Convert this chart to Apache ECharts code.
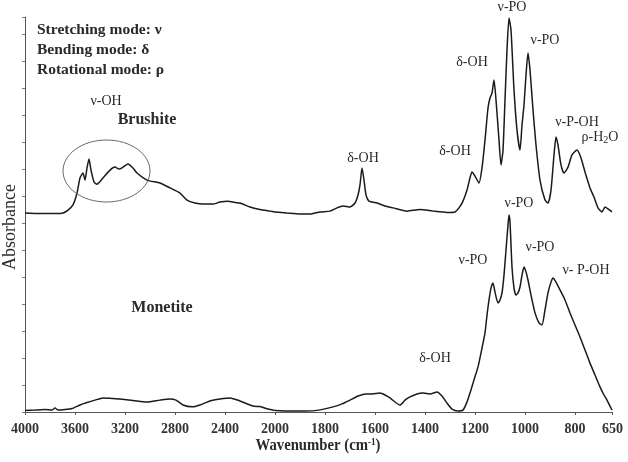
<!DOCTYPE html>
<html>
<head>
<meta charset="utf-8">
<script src="https://cdn.jsdelivr.net/npm/echarts@6/dist/echarts.min.js"></script>
<style>
  html, body { margin: 0; padding: 0; background: #fff; }
  #chart { width: 628px; height: 462px; }
</style>
</head>
<body>
<div id="chart"></div>
<script>
// wavenumber (cm-1) of each sample point
var brushiteWn = [4000, 3880, 3760, 3696, 3656, 3616, 3584, 3560, 3536, 3520, 3504, 3488, 3472, 3448, 3424, 3376, 3320, 3280, 3248, 3224, 3176, 3136, 3104, 3024, 2920, 2840, 2760, 2704, 2640, 2576, 2496, 2440, 2376, 2320, 2280, 2200, 2120, 2040, 2000,
  1952, 1900, 1860, 1820, 1780, 1752, 1728, 1700, 1680, 1668, 1660, 1652, 1644, 1636, 1624, 1592, 1560, 1528, 1472, 1420, 1368, 1312, 1280, 1264, 1248, 1232, 1220, 1212, 1200, 1184, 1172, 1160, 1148, 1140, 1132, 1124, 1116, 1104, 1096, 1088, 1080, 1072, 1064, 1056, 1044, 1032, 1020, 1012, 1004, 996, 988, 980, 968, 956, 940, 920, 908, 896, 884, 876, 868, 856, 844, 828, 812, 792, 776, 760, 740, 724, 708, 692, 680, 668, 652];
var brushiteAbs = [7.37, 7.35, 7.35, 7.37, 7.48, 7.67, 8.11, 8.67, 8.85, 8.59, 9.04, 9.37, 8.96, 8.52, 8.44, 8.67, 8.96, 9.07, 9.0, 9.04, 9.19, 9.04, 8.85, 8.59, 8.48, 8.30, 8.11, 7.85, 7.74, 7.70, 7.70, 7.78, 7.81, 7.76, 7.74, 7.59, 7.50, 7.44, 7.41,
  7.37, 7.33, 7.33, 7.41, 7.44, 7.56, 7.63, 7.59, 7.74, 8.04, 8.41, 9.04, 8.59, 8.04, 7.81, 7.74, 7.63, 7.56, 7.44, 7.50, 7.44, 7.39, 7.41, 7.56, 7.81, 8.22, 8.67, 8.89, 8.74, 8.48, 9.04, 10.07, 11.26, 11.63, 11.81, 12.30, 11.56, 10.07, 9.15, 9.70, 11.56, 13.41, 14.59, 14.15, 11.93, 10.44, 9.70, 10.63, 11.37, 12.48, 13.30, 12.67, 11.19, 9.89, 8.59, 7.85, 7.74, 8.22, 9.52, 10.19, 9.89, 9.15, 8.85, 9.07, 9.52, 9.70, 9.41, 8.89, 8.30, 7.96, 7.56, 7.41, 7.59, 7.52, 7.41];

var monetiteWn = [4000, 3920, 3840, 3784, 3760, 3736, 3680, 3624, 3560, 3504, 3440, 3376, 3304, 3240, 3136, 3024, 2920, 2840, 2792, 2736, 2664, 2600, 2520, 2440, 2360, 2280, 2176, 2120, 2056, 2000,
  1940, 1880, 1832, 1768, 1732, 1700, 1668, 1636, 1612, 1580, 1560, 1540, 1520, 1500, 1480, 1460, 1432, 1408, 1380, 1352, 1332, 1312, 1292, 1268, 1248, 1232, 1220, 1204, 1188, 1172, 1160, 1152, 1144, 1136, 1128, 1120, 1108, 1100, 1092, 1084, 1076, 1068, 1064, 1060, 1052, 1044, 1036, 1028, 1020, 1012, 1004, 996, 988, 976, 960, 944, 932, 920, 908, 896, 888, 876, 860, 840, 820, 800, 780, 760, 740, 720, 700, 684, 672, 660, 652];
var monetiteAbs = [0.06, 0.07, 0.09, 0.07, 0.15, 0.07, 0.09, 0.13, 0.26, 0.35, 0.44, 0.52, 0.50, 0.48, 0.43, 0.37, 0.44, 0.48, 0.44, 0.26, 0.19, 0.26, 0.41, 0.48, 0.52, 0.41, 0.22, 0.20, 0.11, 0.06,
  0.04, 0.04, 0.06, 0.19, 0.30, 0.44, 0.59, 0.67, 0.67, 0.70, 0.63, 0.52, 0.37, 0.26, 0.44, 0.56, 0.67, 0.70, 0.67, 0.74, 0.59, 0.33, 0.11, 0.04, 0.07, 0.37, 0.70, 1.19, 1.67, 2.37, 2.93, 3.59, 4.15, 4.59, 4.78, 4.44, 4.04, 4.15, 4.41, 5.07, 6.00, 6.93, 7.30, 7.04, 5.37, 4.59, 4.33, 4.41, 4.63, 5.07, 5.37, 5.19, 4.89, 4.33, 3.67, 3.30, 3.22, 3.78, 4.41, 4.81, 4.96, 4.81, 4.52, 4.15, 3.67, 3.22, 2.78, 2.30, 1.81, 1.37, 0.93, 0.63, 0.44, 0.22, 0.07];

// tick labels: axis scale changes at 2000 cm-1
var ticksHigh = [4000, 3600, 3200, 2800, 2400, 2000];
var ticksLow = [2000, 1800, 1600, 1400, 1200, 1000, 800, 650];

var serif = '"Liberation Serif", "DejaVu Serif", serif';
var ink = '#2a2a2a';

function pairs(wn, abs, test) {
  var out = [];
  for (var i = 0; i < wn.length; i++) {
    if (test(wn[i])) out.push([wn[i], abs[i]]);
  }
  return out;
}
var hi = function (w) { return w >= 2000; };
var lo = function (w) { return w <= 2000; };

function lineSeries(xi, data) {
  return {
    type: 'line', xAxisIndex: xi, yAxisIndex: xi, data: data,
    showSymbol: false, smooth: 0.2, silent: true,
    lineStyle: { color: '#1a1a1a', width: 1.5 }
  };
}

function label(x, y, text, extra) {
  var st = { text: text, x: x, y: y, fill: ink, font: '14px ' + serif, textAlign: 'center', textVerticalAlign: 'middle' };
  for (var k in extra) st[k] = extra[k];
  return { type: 'text', style: st, z: 10 };
}

var myChart = echarts.init(document.getElementById('chart'));
var yMax = 14.63;
var axisCol = '#555';
var plain = function (v) { return String(v); };
var tickFont = { fontFamily: serif, fontWeight: 'bold', fontSize: 14, color: '#333', margin: 10, formatter: plain };

var option = {
  animation: false,
  grid: [
    { left: 25, top: 17, width: 250, bottom: 50 },
    { left: 275, top: 17, width: 337.5, bottom: 50 }
  ],
  xAxis: [
    {
      gridIndex: 0, type: 'value', min: 2000, max: 4000, inverse: true, interval: 400,
      axisLine: { lineStyle: { color: axisCol } },
      axisTick: { length: 3, lineStyle: { color: axisCol }, customValues: ticksHigh },
      axisLabel: Object.assign({ customValues: ticksHigh }, tickFont),
      splitLine: { show: false }
    },
    {
      gridIndex: 1, type: 'value', min: 650, max: 2000, inverse: true,
      axisLine: { lineStyle: { color: axisCol } },
      axisTick: { length: 3, lineStyle: { color: axisCol }, customValues: ticksLow },
      axisLabel: Object.assign({ customValues: ticksLow.slice(1) }, tickFont),
      splitLine: { show: false }
    }
  ],
  yAxis: [
    {
      gridIndex: 0, type: 'value', min: 0, max: yMax, interval: 1,
      axisLine: { show: true, lineStyle: { color: axisCol } },
      axisTick: { show: true, length: 3, lineStyle: { color: '#777' } },
      axisLabel: { show: false },
      splitLine: { show: false }
    },
    { gridIndex: 1, type: 'value', min: 0, max: yMax, show: false, splitLine: { show: false } }
  ],
  series: [
    lineSeries(0, pairs(brushiteWn, brushiteAbs, hi)),
    lineSeries(1, pairs(brushiteWn, brushiteAbs, lo)),
    lineSeries(0, pairs(monetiteWn, monetiteAbs, hi)),
    lineSeries(1, pairs(monetiteWn, monetiteAbs, lo))
  ],
  graphic: [
    { type: 'text', style: { text: 'Stretching mode: ν', x: 37, y: 30, fill: ink, font: 'bold 15.5px ' + serif, textVerticalAlign: 'middle' } },
    { type: 'text', style: { text: 'Bending mode: δ', x: 37, y: 50, fill: ink, font: 'bold 15.5px ' + serif, textVerticalAlign: 'middle' } },
    { type: 'text', style: { text: 'Rotational mode: ρ', x: 37, y: 70, fill: ink, font: 'bold 15.5px ' + serif, textVerticalAlign: 'middle' } },
    label(147, 120, 'Brushite', { font: 'bold 16px ' + serif }),
    label(162, 308, 'Monetite', { font: 'bold 16px ' + serif }),
    label(106, 101, 'ν-OH'),
    label(363, 158, 'δ-OH'),
    label(455, 151, 'δ-OH'),
    label(472, 62, 'δ-OH'),
    label(512, 7, 'ν-PO'),
    label(545, 40, 'ν-PO'),
    label(577, 122, 'ν-P-OH'),
    label(600, 137, 'ρ-H{sub|2}O', { rich: { sub: { fontSize: 10, fontFamily: serif, fill: ink, padding: [6, 0, 0, 0] } } }),
    label(519, 203, 'ν-PO'),
    label(473, 260, 'ν-PO'),
    label(540, 247, 'ν-PO'),
    label(586, 270, 'ν- P-OH'),
    label(435, 358, 'δ-OH'),
    {
      type: 'ellipse', shape: { cx: 106.5, cy: 171, rx: 43.5, ry: 31 },
      style: { fill: 'none', stroke: '#666', lineWidth: 1 }, z: 9
    },
    {
      type: 'text', x: 318, y: 446, scaleX: 0.92,
      style: {
        text: 'Wavenumber (cm{sup|-1})', x: 0, y: 0, fill: ink, font: 'bold 16px ' + serif,
        textAlign: 'center', textVerticalAlign: 'middle',
        rich: { sup: { fontSize: 10, fontWeight: 'bold', fontFamily: serif, fill: ink, padding: [0, 0, 8, 0] } }
      }
    },
    {
      type: 'text', x: 10, y: 227, rotation: Math.PI / 2,
      style: { text: 'Absorbance', x: 0, y: 0, fill: ink, font: '18px ' + serif, textAlign: 'center', textVerticalAlign: 'middle' }
    }
  ]
};

myChart.setOption(option);
</script>
</body>
</html>
